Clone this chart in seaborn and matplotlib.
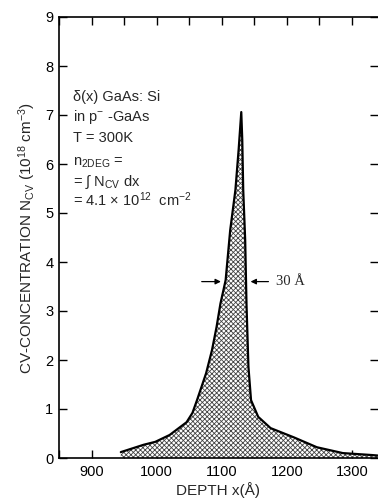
import matplotlib
matplotlib.use("Agg")
import matplotlib.pyplot as plt
import numpy as np
import pandas as pd
import seaborn as sns

# CV profile of a Si delta-doped layer
depth = [945, 980, 998, 1020, 1046, 1055, 1062, 1076, 1085, 1092, 1098, 1106, 1113, 1121,
         1126, 1130, 1131.5, 1133, 1136, 1138, 1141, 1145, 1156, 1175, 1211, 1246, 1286,
         1331, 1340]
conc = [0.12, 0.27, 0.33, 0.47, 0.73, 0.92, 1.18, 1.73, 2.20, 2.67, 3.15, 3.63, 4.65, 5.47,
        6.30, 7.06, 6.50, 5.47, 4.45, 3.15, 1.86, 1.18, 0.84, 0.61, 0.42, 0.22, 0.10,
        0.06, 0.05]
x_ticks = [900, 1000, 1100, 1200, 1300]
y_ticks = [0, 1, 2, 3, 4, 5, 6, 7, 8, 9]
fwhm_y = 3.6

df = pd.DataFrame({"depth": depth, "conc": conc})

sns.set_style("ticks")
plt.rcParams["font.family"] = ["Liberation Sans", "DejaVu Sans"]
plt.rcParams["mathtext.fontset"] = "custom"
plt.rcParams["mathtext.rm"] = "Liberation Sans"
plt.rcParams["mathtext.it"] = "Liberation Sans:italic"
plt.rcParams["mathtext.sf"] = "Liberation Sans"
plt.rcParams["hatch.linewidth"] = 0.6

fig = plt.figure(figsize=(3.78, 5.0), dpi=100)
ax = fig.add_axes([0.156, 0.084, 0.844, 0.882])

ax.fill_between(df["depth"], 0, df["conc"], facecolor="white", edgecolor="#444444",
                hatch="xxxxxxx", linewidth=0)
sns.lineplot(data=df, x="depth", y="conc", ax=ax, color="black", linewidth=1.6,
             sort=False)

ax.set_xlim(853, 1340)
ax.set_ylim(0, 9)
ax.set_xticks(x_ticks)
ax.set_xticks(np.arange(850, 1350, 50), minor=True)
ax.set_yticks(y_ticks)

for s in ["left", "top", "bottom"]:
    ax.spines[s].set_linewidth(1.2)
    ax.spines[s].set_color("black")
ax.spines["right"].set_visible(False)

ax.tick_params(axis="both", which="both", direction="in", top=True, right=True,
               length=6, width=1.0, labelsize=10.5, colors="black")
ax.tick_params(axis="y", which="major", pad=4)
ax.tick_params(axis="x", which="major", pad=5)

ax.set_xlabel("DEPTH x(Å)", fontsize=11, labelpad=2)
ax.set_ylabel(r"CV-CONCENTRATION N$_{\mathrm{CV}}$ (10$^{18}$ cm$^{-3}$)", fontsize=11,
              labelpad=5)

# annotation block
tx = 872
fs = 10.5
ax.text(tx, 7.37, "δ(x) GaAs: Si", fontsize=fs, va="center")
ax.text(tx, 6.96, r"in p$^{-}$ -GaAs", fontsize=fs, va="center")
ax.text(tx, 6.53, "T = 300K", fontsize=fs, va="center")
ax.text(tx, 6.02, r"n$_{\mathrm{2DEG}}$ =", fontsize=fs, va="center")
ax.text(tx, 5.63, r"= ∫ N$_{\mathrm{CV}}$ dx", fontsize=fs, va="center")
ax.text(tx, 5.27, r"= 4.1 × 10$^{12}$  cm$^{-2}$", fontsize=fs, va="center")

# FWHM arrows
arrow = dict(arrowstyle="-|>", color="black", lw=0.9, mutation_scale=8)
ax.annotate("", xy=(1103, fwhm_y), xytext=(1065, fwhm_y), arrowprops=arrow)
ax.annotate("", xy=(1140, fwhm_y), xytext=(1176, fwhm_y), arrowprops=arrow)
ax.text(1184, fwhm_y, "30 Å", fontsize=10.5, va="center", family="Liberation Serif")

fig.savefig("out.png", dpi=100)
